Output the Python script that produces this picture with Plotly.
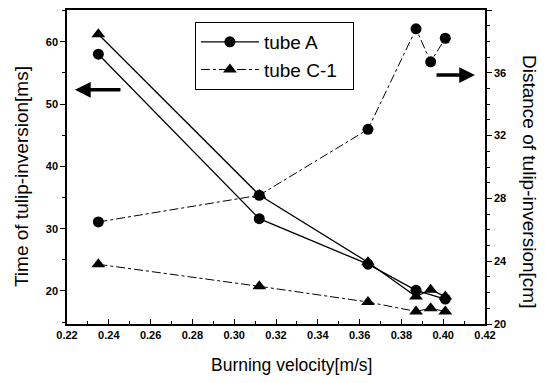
import plotly.graph_objects as go

# Data
x_a_time = [0.235, 0.312, 0.364, 0.387, 0.401]
a_time = [58.0, 31.6, 24.3, 20.1, 18.7]
x_c_time = [0.235, 0.312, 0.364, 0.387, 0.394, 0.401]
c_time = [61.2, 35.4, 24.6, 19.1, 20.2, 19.1]

x_dist = [0.235, 0.312, 0.364, 0.387, 0.394, 0.401]
a_dist = [26.5, 28.2, 32.4, 38.8, 36.7, 38.2]
c_dist = [23.8, 22.4, 21.4, 20.8, 21.0, 20.8]

x_ticks = [0.22, 0.24, 0.26, 0.28, 0.30, 0.32, 0.34, 0.36, 0.38, 0.40, 0.42]
left_ticks = [20, 30, 40, 50, 60]
right_ticks = [20, 24, 28, 32, 36, 40]

FONT = "Liberation Sans, Arial, sans-serif"
fig = go.Figure()

fig.add_trace(go.Scatter(x=x_a_time, y=a_time, mode="lines+markers", name="tube A\u00a0\u00a0\u00a0",
                         line=dict(color="black", width=1.3),
                         marker=dict(symbol="circle", size=11, color="black"),
                         showlegend=True, yaxis="y"))
fig.add_trace(go.Scatter(x=x_c_time, y=c_time, mode="lines+markers", name="tube C-1",
                         line=dict(color="black", width=1.3),
                         marker=dict(symbol="triangle-up", size=12, color="black"),
                         showlegend=False, yaxis="y"))
fig.add_trace(go.Scatter(x=x_dist, y=a_dist, mode="lines+markers", name="tube A",
                         line=dict(color="black", width=1, dash="dashdot"),
                         marker=dict(symbol="circle", size=11, color="black"),
                         showlegend=False, yaxis="y2"))
fig.add_trace(go.Scatter(x=x_dist, y=c_dist, mode="lines+markers", name="tube C-1\u00a0\u00a0",
                         line=dict(color="black", width=1, dash="dashdot"),
                         marker=dict(symbol="triangle-up", size=12, color="black"),
                         showlegend=True, yaxis="y2"))

def axis_style(tickdir):
    return dict(showline=True, linecolor="black", linewidth=1.5, ticks=tickdir,
                ticklen=5, tickwidth=1.2, tickcolor="black", showgrid=False, zeroline=False,
                automargin=False,
                tickfont=dict(family=FONT, size=11, color="black", weight="bold"),
                minor=dict(ticks=tickdir, ticklen=3, tickcolor="black"))

fig.update_layout(
    width=545, height=383,
    margin=dict(l=59, r=68, t=2, b=67),
    paper_bgcolor="white", plot_bgcolor="white",
    font=dict(family=FONT, color="black"),
    xaxis=dict(range=[0.22, 0.42], tickvals=x_ticks, ticktext=[f"{v:.2f}" for v in x_ticks],
               mirror=True, **axis_style("inside")),
    yaxis=dict(range=[14.7, 65.1], tickvals=left_ticks, **axis_style("outside")),
    yaxis2=dict(range=[20, 40], tickvals=right_ticks, overlaying="y", side="right",
                **axis_style("outside")),
    legend=dict(x=0.306, y=0.962, xanchor="left", yanchor="top",
                bordercolor="black", borderwidth=1, bgcolor="white",
                font=dict(family=FONT, size=19, color="black"),
                itemwidth=58, tracegroupgap=0),
    annotations=[
        dict(x=0.536, y=-0.131, xref="paper", yref="paper", showarrow=False,
             text="Burning velocity[m/s]", font=dict(size=17.5, color="black"),
             xanchor="center", yanchor="middle"),
        dict(x=-0.110, y=0.468, xref="paper", yref="paper", showarrow=False, textangle=-90,
             text="Time of tulip-inversion[ms]", font=dict(size=19, color="black"),
             xanchor="center", yanchor="middle"),
        dict(x=1.108, y=0.455, xref="paper", yref="paper", showarrow=False, textangle=90,
             text="Distance of tulip-inversion[cm]", font=dict(size=19, color="black"),
             xanchor="center", yanchor="middle"),
        dict(x=0.2238, y=52.3, ax=0.2463, ay=52.3, xref="x", yref="y", axref="x", ayref="y",
             showarrow=True, arrowhead=2, arrowsize=0.9, arrowwidth=3.5, arrowcolor="black", text=""),
        dict(x=0.4152, y=35.86, ax=0.3961, ay=35.86, xref="x", yref="y2", axref="x", ayref="y2",
             showarrow=True, arrowhead=2, arrowsize=0.9, arrowwidth=3.5, arrowcolor="black", text=""),
    ],
)

fig.write_html("out.html")
